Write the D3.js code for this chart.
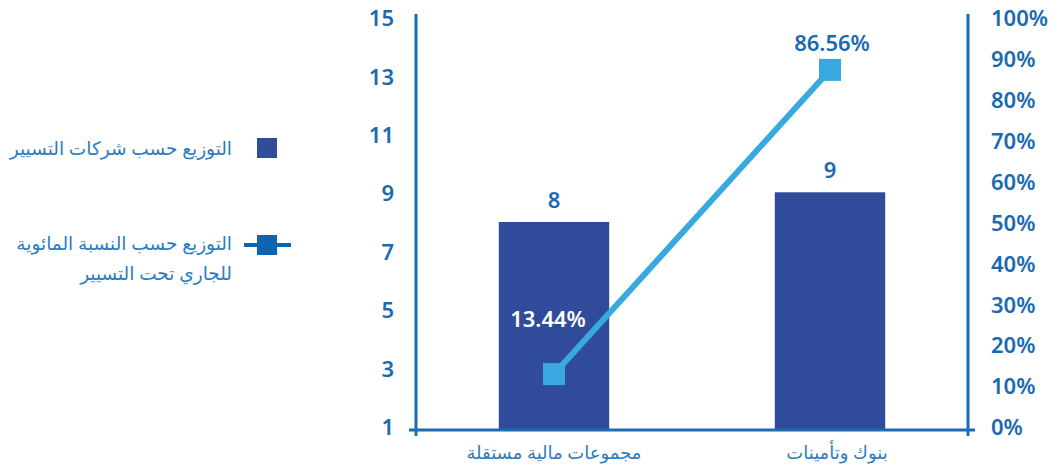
<!DOCTYPE html>
<html lang="ar">
<head>
<meta charset="utf-8">
<script src="https://cdn.jsdelivr.net/npm/d3@7"></script>
<style>
  html, body { margin: 0; padding: 0; background: #fff; }
  svg { display: block; font-family: "Noto Sans", "DejaVu Sans", sans-serif; }
</style>
</head>
<body>
<svg id="chart" width="1058" height="469"></svg>
<script>
// Categories and series
const categories = ["مجموعات مالية مستقلة", "بنوك وتأمينات"];
const companyCounts = [8, 9];
const sharePercent = [13.44, 86.56];

// Axis tick values
const leftTicks = [1, 3, 5, 7, 9, 11, 13, 15];
const rightTicks = [0, 10, 20, 30, 40, 50, 60, 70, 80, 90, 100];

// Legend labels
const legendBars = "التوزيع حسب شركات التسيير";
const legendLine = ["التوزيع حسب النسبة المائوية", "للجاري تحت التسيير"];

const BAR = "#2f4b9a";
const LINE = "#38a9e0";
const AXIS = "#1b6db4";
const TEXT = "#1a6ab2";
const LEGEND_TEXT = "#2b7cc0";

const svg = d3.select("#chart");
const plotLeft = 416, plotRight = 968, plotTop = 14, plotBottom = 430;

const x = d3.scaleBand().domain(categories).range([plotLeft, plotRight]).paddingInner(0.6).paddingOuter(0.3);
const yL = d3.scaleLinear().domain([1, 15]).range([plotBottom, plotTop]);
const yR = d3.scaleLinear().domain([0, 100]).range([plotBottom, plotTop]);

// Bars
svg.append("g").selectAll("rect").data(categories).join("rect")
  .attr("x", d => x(d))
  .attr("y", (d, i) => yL(companyCounts[i]))
  .attr("width", x.bandwidth())
  .attr("height", (d, i) => yL(1) - yL(companyCounts[i]))
  .attr("fill", BAR);

// Bar value labels
svg.append("g").selectAll("text").data(categories).join("text")
  .attr("x", d => x(d) + x.bandwidth() / 2)
  .attr("y", (d, i) => yL(companyCounts[i]) - 23)
  .attr("text-anchor", "middle")
  .attr("dominant-baseline", "central")
  .attr("font-size", 22).attr("font-weight", 600)
  .attr("fill", TEXT)
  .text((d, i) => companyCounts[i]);

// Axes: tick labels sit slightly inside the plot extremes
const axisL = svg.append("g").attr("transform", `translate(${plotLeft},0)`)
  .call(d3.axisLeft(yL).tickValues(leftTicks).tickSize(0).tickPadding(22));
const axisR = svg.append("g").attr("transform", `translate(${plotRight},0)`)
  .call(d3.axisRight(yR).tickValues(rightTicks).tickSize(0).tickPadding(23).tickFormat(d => d + "%"));
[[axisL, yL], [axisR, yR]].forEach(([g, s]) => {
  g.select(".domain").remove();
  const frac = d => (plotBottom - s(d)) / (plotBottom - plotTop);
  g.selectAll("text").attr("font-size", 22).attr("font-weight", 600).attr("fill", TEXT)
    .attr("font-family", "'Noto Sans', sans-serif").attr("dy", "0.35em")
    .attr("y", d => -3 + 7 * frac(d));
});

const lines = svg.append("g").attr("stroke", AXIS).attr("stroke-width", 3).attr("fill", "none");
lines.append("line").attr("x1", plotLeft).attr("x2", plotLeft).attr("y1", plotTop).attr("y2", plotBottom + 6);
lines.append("line").attr("x1", plotRight).attr("x2", plotRight).attr("y1", plotTop).attr("y2", plotBottom + 6);
lines.append("line").attr("x1", plotLeft - 7).attr("x2", plotRight + 7).attr("y1", plotBottom).attr("y2", plotBottom);

// Category labels
const catShift = [0, 7];
svg.append("g").selectAll("text").data(categories).join("text")
  .attr("x", (d, i) => x(d) + x.bandwidth() / 2 + catShift[i])
  .attr("y", 452)
  .attr("text-anchor", "middle")
  .attr("dominant-baseline", "central")
  .attr("font-size", 18)
  .attr("fill", LEGEND_TEXT)
  .attr("direction", "rtl")
  .text(d => d);

// Percentage line
const cx = d => x(d) + x.bandwidth() / 2;
svg.append("path")
  .datum(categories)
  .attr("d", d3.line().x(d => cx(d)).y((d, i) => yR(sharePercent[i])))
  .attr("stroke", LINE).attr("stroke-width", 6).attr("fill", "none");
svg.append("g").selectAll("rect").data(categories).join("rect")
  .attr("x", d => cx(d) - 11)
  .attr("y", (d, i) => yR(sharePercent[i]) - 11)
  .attr("width", 22).attr("height", 22)
  .attr("fill", LINE);

// Percentage labels
const pctPos = [{dx: -6, dy: -56, fill: "#ffffff"}, {dx: 2, dy: -28, fill: TEXT}];
svg.append("g").selectAll("text").data(categories).join("text")
  .attr("x", (d, i) => cx(d) + pctPos[i].dx)
  .attr("y", (d, i) => yR(sharePercent[i]) + pctPos[i].dy)
  .attr("text-anchor", "middle")
  .attr("dominant-baseline", "central")
  .attr("font-size", 22).attr("font-weight", 600)
  .attr("fill", (d, i) => pctPos[i].fill)
  .text((d, i) => sharePercent[i].toFixed(2) + "%");

// Legend
const lg = svg.append("g");
lg.append("rect").attr("x", 257).attr("y", 138).attr("width", 20).attr("height", 20).attr("fill", BAR);
lg.append("text").attr("x", 232).attr("y", 147).attr("text-anchor", "start")
  .attr("direction", "rtl").attr("dominant-baseline", "central")
  .attr("font-size", 18.5).attr("fill", LEGEND_TEXT).text(legendBars);
lg.append("line").attr("x1", 244).attr("x2", 291).attr("y1", 245).attr("y2", 245)
  .attr("stroke", "#0e64ae").attr("stroke-width", 4);
lg.append("rect").attr("x", 257).attr("y", 235).attr("width", 20).attr("height", 20).attr("fill", "#0e64ae");
lg.selectAll("text.l2").data(legendLine).join("text").attr("class", "l2")
  .attr("x", 232).attr("y", (d, i) => 242 + i * 30).attr("text-anchor", "start")
  .attr("direction", "rtl").attr("dominant-baseline", "central")
  .attr("font-size", 18.5).attr("fill", LEGEND_TEXT).text(d => d);
</script>
</body>
</html>
